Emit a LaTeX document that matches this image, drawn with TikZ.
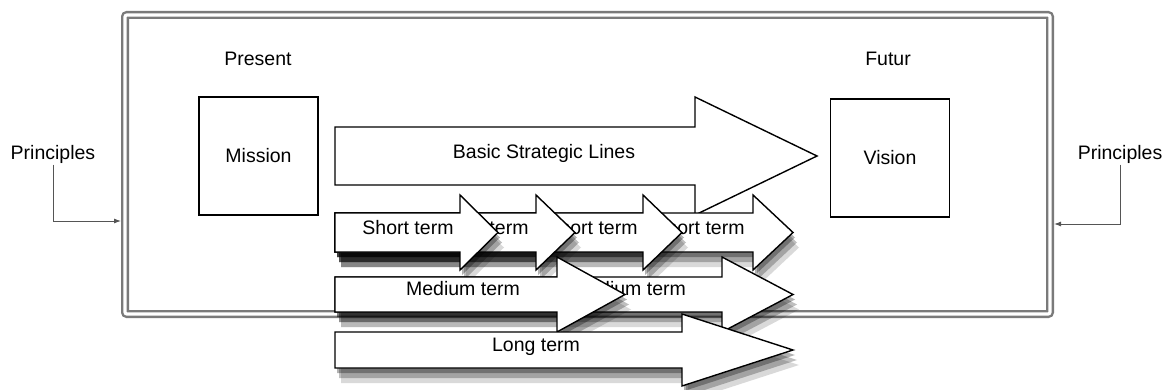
\documentclass[tikz,border=0pt]{standalone}
\usepackage{fontspec}
\setmainfont{Liberation Sans}
\usetikzlibrary{arrows.meta,shadows}
\definecolor{frameGray}{HTML}{7A7A7A}
\definecolor{linkGray}{HTML}{555555}
\tikzset{
  plan diagram/.style={
    x=1pt, y=-1pt,
    every node/.style={font=\fontsize{19.5}{23}\selectfont,
      text=black, inner sep=0pt, outer sep=0pt}
  },
  plan frame/.style={draw=frameGray, line width=2.4pt, double=white,
    double distance=3.2pt, rounded corners=2pt},
  plan box/.style={draw=black, line width=1.3pt,
    minimum width=119pt, minimum height=118pt},
  plan label/.style={text height=1.5ex, text depth=.25ex},
  plan link/.style={draw=linkGray, line width=0.9pt, shorten <=4pt,
    -{Latex[length=7pt,width=5pt]}},
  plan arrow/.style={draw=black, line width=1.4pt, fill=white},
  term arrow/.style={plan arrow,
    drop shadow={shadow xshift=2pt, shadow yshift=-5pt, fill=black, opacity=0.3},
    drop shadow={shadow xshift=4pt, shadow yshift=-10pt, fill=black, opacity=0.25},
    drop shadow={shadow xshift=6pt, shadow yshift=-15pt, fill=black, opacity=0.15}}
}
% start, head start, tip, centre, body half, head half
\newcommand{\PlanArrow}[7][plan arrow]{%
  \path[#1] (#2,{#5-#6}) -- (#3,{#5-#6}) -- (#3,{#5-#7}) -- (#4,#5)
    -- (#3,{#5+#7}) -- (#3,{#5+#6}) -- (#2,{#5+#6}) -- cycle;
}

\begin{document}
\begin{tikzpicture}[plan diagram]
  \useasboundingbox (0,0) rectangle (1169,390);
  \node[plan frame, minimum width=925pt, minimum height=299pt]
    (frame) at (587.5,164.5) {};
  \node[plan label] (present) at (258,62) {Present};
  \node[plan label] (futur) at (888,62) {Futur};
  \node[plan box] (mission) at (258.5,156) {Mission};
  \node[plan box] (vision) at (890,158) {Vision};
  \node[plan label] (prinL) at (53,156) {Principles};
  \node[plan label] (prinR) at (1120,156) {Principles};
  \coordinate (inL) at (121,221);
  \coordinate (inR) at (1054,224);
  \draw[plan link] (prinL.south) |- (inL);
  \draw[plan link] (prinR.south) |- (inR);

  \PlanArrow{335}{695}{817}{156}{29}{59}
  \node[plan label] (basic) at (544,155) {Basic Strategic Lines};

  % short term, back to front
  \PlanArrow[term arrow]{335}{753}{793}{232.5}{19.5}{37.5}
  \node[plan label] (short4) at (699,231) {Short term};
  \PlanArrow[term arrow]{335}{643}{682}{232.5}{19.5}{37.5}
  \node[plan label] (short3) at (592,231) {Short term};
  \PlanArrow[term arrow]{335}{536}{575}{232.5}{19.5}{37.5}
  \node[plan label] (short2) at (483,231) {Short term};
  \PlanArrow[term arrow]{335}{460}{498}{232.5}{19.5}{37.5}
  \node[plan label] (short1) at (408,231) {Short term};

  % medium term
  \PlanArrow[term arrow]{335}{722}{793}{294.5}{17.5}{37.5}
  \node[plan label] (medium2) at (629,292) {Medium term};
  \PlanArrow[term arrow]{335}{557}{625}{294.5}{17.5}{37.5}
  \node[plan label] (medium1) at (463,292) {Medium term};

  % long term
  \PlanArrow[term arrow]{335}{682}{793}{350}{18}{36}
  \node[plan label] (long) at (536,348) {Long term};
\end{tikzpicture}
\end{document}
